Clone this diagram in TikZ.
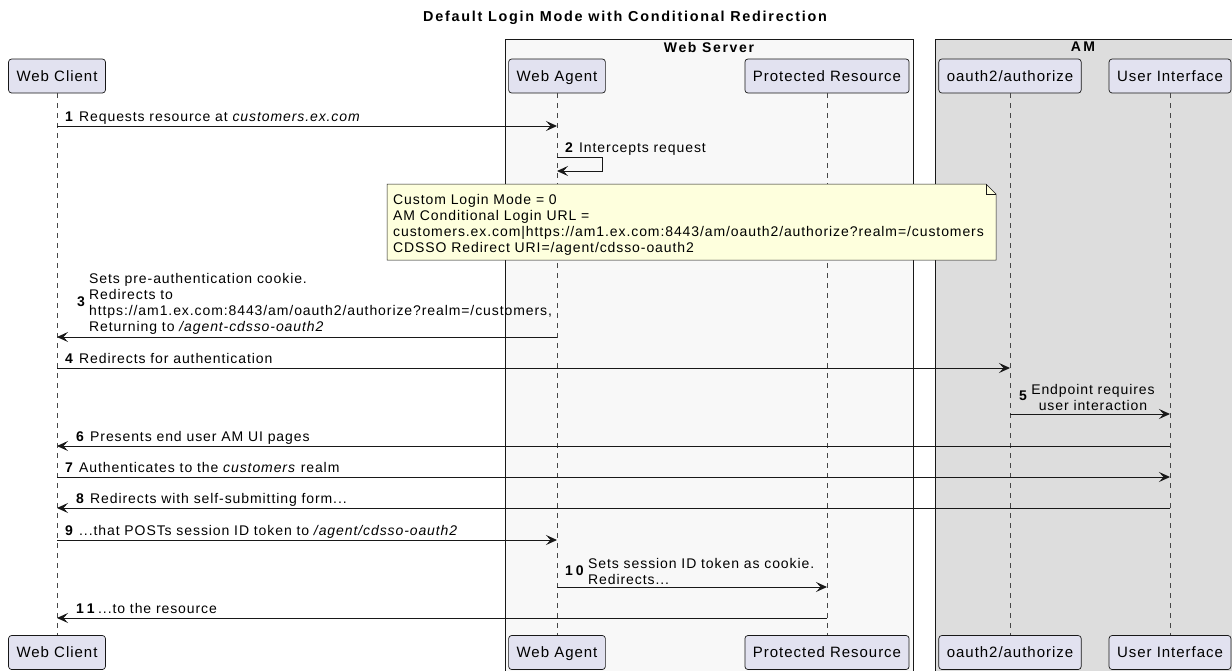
\documentclass[tikz,border=0pt]{standalone}
\usepackage{fontspec}
\setmainfont{Liberation Sans}
\newfontfamily\msgf{Liberation Sans}[LetterSpace=6.5]
\newfontfamily\hdf{Liberation Sans}[LetterSpace=12]
\usetikzlibrary{arrows.meta}
\definecolor{ln}{HTML}{181818}
\definecolor{partfill}{HTML}{E2E2F0}
\definecolor{notefill}{HTML}{FEFFDD}
\definecolor{wsfill}{HTML}{F8F8F8}
\definecolor{amfill}{HTML}{DDDDDD}
\begin{document}
\begin{tikzpicture}[x=1pt,y=-1pt,
  part/.style={draw=ln, fill=partfill, rounded corners=3pt, line width=0.7pt, minimum height=34pt, inner xsep=8pt, inner ysep=0pt, text height=13.5pt, text depth=2.7pt, font=\msgf\fontsize{15}{17}\selectfont, text=black},
  life/.style={draw=ln!80, line width=0.5pt, dash pattern=on 5pt off 5pt},
  msg/.style={draw=ln, line width=1pt, -{Stealth[length=11pt,width=10pt,inset=4.5pt]}},
  lbl/.style={anchor=base west, inner sep=0pt, font=\msgf\fontsize{14}{16}\selectfont},
  mlbl/.style={anchor=north west, inner sep=0pt, align=left, font=\msgf\fontsize{14}{16}\selectfont},
  num/.style={inner sep=0pt, font=\hdf\bfseries\fontsize{14}{16}\selectfont},
  hdr/.style={inner sep=0pt, font=\hdf\bfseries\fontsize{14}{16}\selectfont},
  grp/.style={draw=ln, line width=0.6pt},
  ]
\useasboundingbox (0,0) rectangle (1232,670);
\fill[white] (0,0) rectangle (1232,670);

% groups
\draw[grp, fill=wsfill] (505,39) rectangle (913,673);
\draw[grp, fill=amfill] (935,39) rectangle (1236,673);
\node[hdr, font=\hdf\bfseries\fontsize{14.4}{16}\selectfont] (title) at (625,18) {Default Login Mode with Conditional Redirection};
\node[hdr] (wsT) at (709,47) {Web Server};
\node[hdr] (amT) at (1083,47) {A\kern2.5pt M};

% participants
\node[part] (wc) at (57,76) {Web Client};
\node[part] (wa) at (557,76) {Web Agent};
\node[part] (pr) at (827,76) {Protected Resource};
\node[part] (oa) at (1010,76) {oauth2/authorize};
\node[part] (ui) at (1170,76) {User Interface};
\node[part] (wcB) at (57,652.5) {Web Client};
\node[part] (waB) at (557,652.5) {Web Agent};
\node[part] (prB) at (827,652.5) {Protected Resource};
\node[part] (oaB) at (1010,652.5) {oauth2/authorize};
\node[part] (uiB) at (1170,652.5) {User Interface};

% lifelines
\draw[life] (wc) -- (wcB);
\draw[life] (wa) -- (waB);
\draw[life] (pr) -- (prB);
\draw[life] (oa) -- (oaB);
\draw[life] (ui) -- (uiB);

% note
\draw[draw=ln, line width=0.5pt, fill=notefill] (387,184) -- (986,184) -- (996,194) -- (996,260) -- (387,260) -- cycle;
\draw[draw=ln, line width=0.5pt] (986,184) -- (986,194) -- (996,194);
\node[mlbl] (note) at (393,193.8) {Custom Login Mode = 0\\AM Conditional Login URL =\\customers.ex.com|https://am1.ex.com:8443/am/oauth2/authorize?realm=/customers\\CDSSO Redirect URI=/agent/cdsso-oauth2};

% 1
\draw[msg] (wc |- 0,126) -- (wa |- 0,126);
\node[num, anchor=base west] (n1) at (65,121) {1};
\node[lbl] (t1) at (79,121) {Requests resource at \textit{customers.ex.com}};
% 2
\draw[msg] (wa |- 0,157) -- ++(45,0) -- ++(0,14) -- (wa |- 0,171);
\node[num, anchor=base west] (n2) at (565,152) {2};
\node[lbl] (t2) at (579,152) {Intercepts request};
% 3
\draw[msg] (wa |- 0,337) -- (wc |- 0,337);
\node[mlbl] (t3) at (89,272.8) {Sets pre-authentication cookie.\\Redirects to\\https://am1.ex.com:8443/am/oauth2/authorize?realm=/customers,\\Returning to \textit{/agent-cdsso-oauth2}};
\node[num, anchor=west] (n3) at (77,302) {3};
% 4
\draw[msg] (wc |- 0,368) -- (oa |- 0,368);
\node[num, anchor=base west] (n4) at (65,363) {4};
\node[lbl] (t4) at (79,363) {Redirects for authentication};
% 5
\draw[msg] (oa |- 0,414) -- (ui |- 0,414);
\node[mlbl, anchor=north, align=center] (t5) at (1093,384) {Endpoint requires\\user interaction};
\node[num, anchor=west] (n5) at (1019,396) {5};
% 6
\draw[msg] (ui |- 0,446) -- (wc |- 0,446);
\node[num, anchor=base west] (n6) at (76,441) {6};
\node[lbl] (t6) at (90,441) {Presents end user AM UI pages};
% 7
\draw[msg] (wc |- 0,477) -- (ui |- 0,477);
\node[num, anchor=base west] (n7) at (65,472) {7};
\node[lbl] (t7) at (79,472) {Authenticates to the \textit{customers} realm};
% 8
\draw[msg] (ui |- 0,508) -- (wc |- 0,508);
\node[num, anchor=base west] (n8) at (76,503) {8};
\node[lbl] (t8) at (90,503) {Redirects with self-submitting form...};
% 9
\draw[msg] (wc |- 0,540) -- (wa |- 0,540);
\node[num, anchor=base west] (n9) at (65,535) {9};
\node[lbl] (t9) at (79,535) {...that POSTs session ID token to \textit{/agent/cdsso-oauth2}};
% 10
\draw[msg] (wa |- 0,587) -- (pr |- 0,587);
\node[mlbl] (t10) at (588,558) {Sets session ID token as cookie.\\Redirects...};
\node[num, anchor=west] (n10) at (565,571) {1\kern3pt 0};
% 11
\draw[msg] (pr |- 0,618) -- (wc |- 0,618);
\node[num, anchor=base west] (n11) at (76,613) {1\kern3pt 1};
\node[lbl] (t11) at (98,613) {...to the resource};
\end{tikzpicture}
\end{document}
